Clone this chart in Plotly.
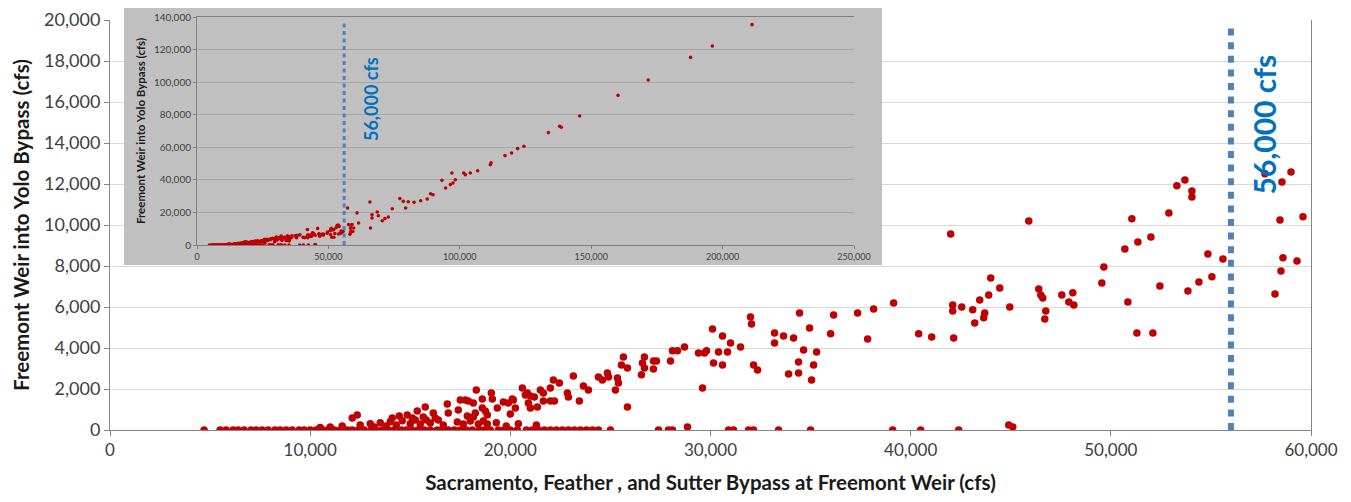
import plotly.graph_objects as go

# ---------------- data ----------------
# Days with no flow over Fremont Weir (weir flow = 0)
NOFLOW_SAC_X = [4700, 5500, 5800, 6150, 6400, 6700, 7050, 7300, 7600, 7900, 8250, 8500,
                8800, 9100, 9450, 9700, 10000, 10300, 10650, 10900, 11200, 11500, 11850,
                12100, 12400, 12700, 13050, 13300, 13600, 13900, 14200, 14550, 14800,
                15100, 15400, 15700, 16000, 16350, 16600, 16900, 17200, 17500, 17800,
                18100, 18450, 18700, 19000, 19400, 19700, 20000, 20350, 20800, 21100,
                21400, 21700, 22000, 22300, 22600, 22900, 23200, 23500, 23800, 24100,
                24400, 25000, 27400, 27900, 28100, 30900, 31150, 31900, 32150, 33400,
                35000, 39100, 40500, 42400]
NOFLOW_WEIR_Y = [0, 0, 0, 0, 0, 0, 0, 0, 0, 0, 0, 0,
                 0, 0, 0, 0, 0, 0, 0, 0, 0, 0, 0,
                 0, 0, 0, 0, 0, 0, 0, 0, 0, 0,
                 0, 0, 0, 0, 0, 0, 0, 0, 0, 0,
                 0, 0, 0, 0, 0, 0, 0, 0, 0, 0,
                 0, 0, 0, 0, 0, 0, 0, 0, 0, 0,
                 0, 0, 0, 0, 0, 0, 0, 0, 0, 0,
                 0, 0, 0, 0]

# Spill days, Sacramento + Feather + Sutter below ~26,000 cfs
LOW_SAC_X = [10500, 11000, 11600, 12100, 12350, 12500, 13000, 13200, 13500, 13800, 14000,
             14100, 14300, 14450, 14600, 14850, 15000, 15100, 15250, 15350, 15500, 15650,
             15750, 15800, 16000, 16150, 16250, 16400, 16650, 16850, 16900, 17350, 17400,
             17500, 17650, 17750, 17850, 17900, 18000, 18150, 18150, 18250, 18300, 18400,
             18600, 18600, 18650, 18750, 18850, 18850, 19050, 19100, 19300, 19350, 19650,
             19800, 19900, 20000, 20100, 20150, 20250, 20400, 20600, 20750, 20850, 20900,
             21000, 21000, 21200, 21300, 21350, 21500, 21650, 21650, 22000, 22000, 22150,
             22200, 22450, 22850, 22900, 23150, 23450, 23650, 23900, 24400, 24600, 24850,
             24900, 25250, 25350, 25400, 25550, 25650, 25850, 25850]
LOW_WEIR_Y = [120, 150, 200, 590, 730, 250, 300, 150, 350, 200, 400,
              590, 250, 680, 450, 730, 300, 590, 490, 930, 290, 630,
              1120, 490, 340, 830, 590, 490, 240, 1270, 830, 390, 980,
              1460, 290, 1460, 680, 1420, 440, 1320, 630, 830, 1950, 290,
              1510, 1070, 440, 930, 730, 290, 1800, 1510, 350, 1070, 1370,
              200, 1320, 780, 1510, 1460, 1070, 300, 2050, 1710, 1800, 1320,
              1660, 1070, 1610, 250, 1120, 1950, 1800, 1420, 2050, 1420, 2440,
              1420, 2290, 1800, 1610, 2640, 1420, 2150, 1950, 2590, 2440, 2780,
              2590, 1950, 2540, 2290, 3170, 3560, 3030, 1120]

# Spill days, 26,000 - 60,000 cfs
MID_SAC_X = [26550, 26600, 26700, 26700, 27150, 27150, 27300, 28000, 28100, 28350, 28700,
             28850, 29400, 29600, 29700, 29800, 30100, 30150, 30400, 30600, 30600, 30850,
             31000, 31500, 32000, 32050, 32150, 32350, 33200, 33200, 33650, 33900, 34150,
             34400, 34400, 34450, 34650, 34950, 35050, 35150, 35300, 36000, 36150, 37350,
             37850, 38150, 39150, 40400, 41050, 42000, 42100, 42100, 42150, 42550, 43100,
             43200, 43450, 43650, 43700, 43900, 44000, 44450, 44900, 44950, 45100, 45900,
             46400, 46500, 46600, 46700, 46750, 47550, 47900, 48100, 48150, 49550, 49650,
             50700, 50850, 51050, 51300, 51350, 52000, 52100, 52450, 52900, 53300, 53700,
             53850, 54050, 54050, 54400, 54850, 55050, 55600, 58200, 58450, 58500, 58550,
             59000, 59300]
MID_WEIR_Y = [2690, 3270, 3560, 3030, 2980, 3370, 3370, 3370, 3860, 3860, 4050,
              150, 3760, 2050, 3760, 3860, 4930, 3270, 3810, 4590, 3170, 3810,
              4250, 4050, 5510, 5170, 3170, 2930, 4730, 4250, 4590, 2730, 4490,
              2780, 3320, 5710, 3900, 4980, 2440, 3170, 3810, 4690, 5610, 5710,
              4440, 5900, 6200, 4690, 4540, 9560, 6100, 5810, 4490, 6000, 5860,
              5220, 6340, 5470, 5710, 6590, 7420, 6930, 250, 6000, 150, 10200,
              6880, 6590, 6440, 5420, 5810, 6590, 6250, 6690, 6100, 7170, 7950,
              8830, 6250, 10300, 4730, 9170, 9420, 4730, 7030, 10590, 11910, 12200,
              6780, 11660, 11370, 7220, 8590, 7470, 8340, 6640, 10250, 7760, 12100,
              12590, 8250]

# High-flow days only visible in the inset (full record)
HIGH_SAC_X = [57300, 57700, 58600, 59600, 60900, 61500, 65800, 66000, 66600, 66600, 68600,
              69000, 70500, 71500, 72800, 74300, 77200, 78500, 79400, 80400, 82600, 85100,
              87600, 88900, 89800, 93200, 94600, 96400, 97000, 97400, 98300, 101500, 102100,
              104000, 106800, 111600, 111900, 117200, 119700, 122000, 124400, 133700,
              138000, 138600, 145600, 160200, 171700, 187800, 196100, 211200]
HIGH_WEIR_Y = [22700, 12500, 8400, 10400, 19700, 13500, 26400, 10400, 18600, 16600, 20300,
               18000, 14900, 16200, 17200, 22300, 28500, 26800, 22700, 26600, 26200, 27200,
               28200, 31500, 30900, 39700, 35000, 37100, 44200, 38100, 40100, 44200, 43200,
               44200, 45600, 49300, 50400, 54900, 56500, 59200, 60600, 69000,
               72900, 72300, 79200, 91900, 101300, 115200, 122200, 135300]

THRESHOLD_CFS = 56000
THRESHOLD_LABEL = "56,000 cfs"

X_TITLE = "Sacramento, Feather , and Sutter Bypass at Freemont Weir (cfs)"
Y_TITLE = "Freemont Weir into Yolo Bypass (cfs)"

# ---------------- figure ----------------
RED = "#C00000"
BLUE_LINE = "#4F81BD"
BLUE_TEXT = "#0070C0"
FONT = "Lato"

all_x = NOFLOW_SAC_X + LOW_SAC_X + MID_SAC_X
all_y = NOFLOW_WEIR_Y + LOW_WEIR_Y + MID_WEIR_Y
full_x = all_x + HIGH_SAC_X
full_y = all_y + HIGH_WEIR_Y

fig = go.Figure()

# main scatter
fig.add_trace(go.Scatter(x=full_x, y=full_y, mode="markers",
                         marker=dict(color=RED, size=7.5), xaxis="x", yaxis="y",
                         showlegend=False, hoverinfo="skip"))
# main threshold line
fig.add_trace(go.Scatter(x=[THRESHOLD_CFS, THRESHOLD_CFS], y=[0, 19700], mode="lines",
                         line=dict(color=BLUE_LINE, width=6, dash="7px,6.6px"),
                         xaxis="x", yaxis="y", showlegend=False, hoverinfo="skip"))

# inset background holder (x2/y2) - invisible axes carrying the gray panel
fig.add_trace(go.Scatter(x=[None], y=[None], mode="markers", xaxis="x2", yaxis="y2",
                         showlegend=False, hoverinfo="skip"))

# inset scatter
fig.add_trace(go.Scatter(x=full_x, y=full_y, mode="markers",
                         marker=dict(color=RED, size=3.6), xaxis="x3", yaxis="y3",
                         showlegend=False, hoverinfo="skip"))
fig.add_trace(go.Scatter(x=[THRESHOLD_CFS, THRESHOLD_CFS], y=[0, 137000], mode="lines",
                         line=dict(color=BLUE_LINE, width=3, dash="4px,3.5px"),
                         xaxis="x3", yaxis="y3", showlegend=False, hoverinfo="skip"))

# geometry: the page body adds an 8px offset, so the figure is 8px smaller
OFF = 8
W, H = 1351 - OFF, 502 - OFF
L = 110 - OFF            # main plot left edge at screen x=110
R = W - (1311 - OFF)     # main plot right edge at screen x=1311
T = 0                    # plot area top at screen y=8
B = H - (430 - OFF)      # main plot bottom at screen y=430
pw, ph = W - L - R, H - T - B


def dx(px):
    return (px - OFF - L) / pw


def dy(py):
    return min(1.0, (H - B - (py - OFF)) / ph)


AX_GRAY = "#868686"
TICK_COLOR = "#404040"

fig.update_layout(
    width=W, height=H,
    margin=dict(l=L, r=R, t=T, b=B, pad=0, autoexpand=False),
    paper_bgcolor="white",
    plot_bgcolor="rgba(0,0,0,0)",
    font=dict(family=FONT, color=TICK_COLOR),
    xaxis=dict(domain=[0, 1], range=[0, 60000], dtick=10000, tickformat=",",
               showgrid=False, zeroline=False, automargin=False,
               showline=True, linecolor=AX_GRAY, linewidth=1,
               ticks="outside", ticklen=5, tickcolor=AX_GRAY,
               tickfont=dict(size=17, color=TICK_COLOR, family=FONT),
               title=dict(text=X_TITLE, standoff=16,
                          font=dict(size=20.5, color="#1a1a1a", family=FONT, weight="bold")),
               anchor="y"),
    yaxis=dict(domain=[0, dy(20)], range=[0, 20000], dtick=2000, tickformat=",",
               showgrid=True, gridcolor="#d9d9d9", gridwidth=1, zeroline=False,
               automargin=False,
               showline=True, linecolor=AX_GRAY, linewidth=1, mirror=True,
               ticks="outside", ticklen=5, tickcolor=AX_GRAY,
               tickfont=dict(size=18, color=TICK_COLOR, family=FONT),
               title=dict(text=Y_TITLE, standoff=8,
                          font=dict(size=20.5, color="#1a1a1a", family=FONT, weight="bold")),
               anchor="x"),
    xaxis2=dict(domain=[dx(124), dx(882)], range=[0, 1], visible=False, anchor="y2",
                fixedrange=True, automargin=False),
    yaxis2=dict(domain=[dy(265), dy(5)], range=[0, 1], visible=False, anchor="x2",
                fixedrange=True, automargin=False),
    xaxis3=dict(domain=[dx(197), dx(854)], range=[0, 250000], dtick=50000, tickformat=",",
                showgrid=False, zeroline=False, automargin=False,
                showline=True, linecolor="#7f7f7f", linewidth=1, mirror=True,
                ticks="outside", ticklen=3, tickcolor="#7f7f7f",
                tickfont=dict(size=9, color=TICK_COLOR, family=FONT),
                anchor="y3"),
    yaxis3=dict(domain=[dy(245), dy(17)], range=[0, 140000], dtick=20000, tickformat=",",
                showgrid=True, gridcolor="#a6a6a6", gridwidth=1, zeroline=False,
                automargin=False,
                showline=True, linecolor="#7f7f7f", linewidth=1,
                ticks="outside", ticklen=3, tickcolor="#7f7f7f",
                tickfont=dict(size=10, color=TICK_COLOR, family=FONT),
                title=dict(text=Y_TITLE, standoff=5,
                           font=dict(size=11.5, color="#1a1a1a", family=FONT, weight="bold")),
                anchor="x3"),
    shapes=[dict(type="rect", xref="x2", yref="y2", x0=0, x1=1, y0=0, y1=1,
                 fillcolor="#c0c0c0", line=dict(width=0), layer="below")],
    annotations=[
        dict(text=THRESHOLD_LABEL, x=57650, y=14900, xref="x", yref="y",
             textangle=-90, showarrow=False,
             font=dict(size=30, color=BLUE_TEXT, family=FONT, weight="bold")),
        dict(text=THRESHOLD_LABEL, x=66200, y=89600, xref="x3", yref="y3",
             textangle=-90, showarrow=False,
             font=dict(size=18, color=BLUE_TEXT, family=FONT, weight="bold")),
    ],
)

fig.write_html("out.html")
